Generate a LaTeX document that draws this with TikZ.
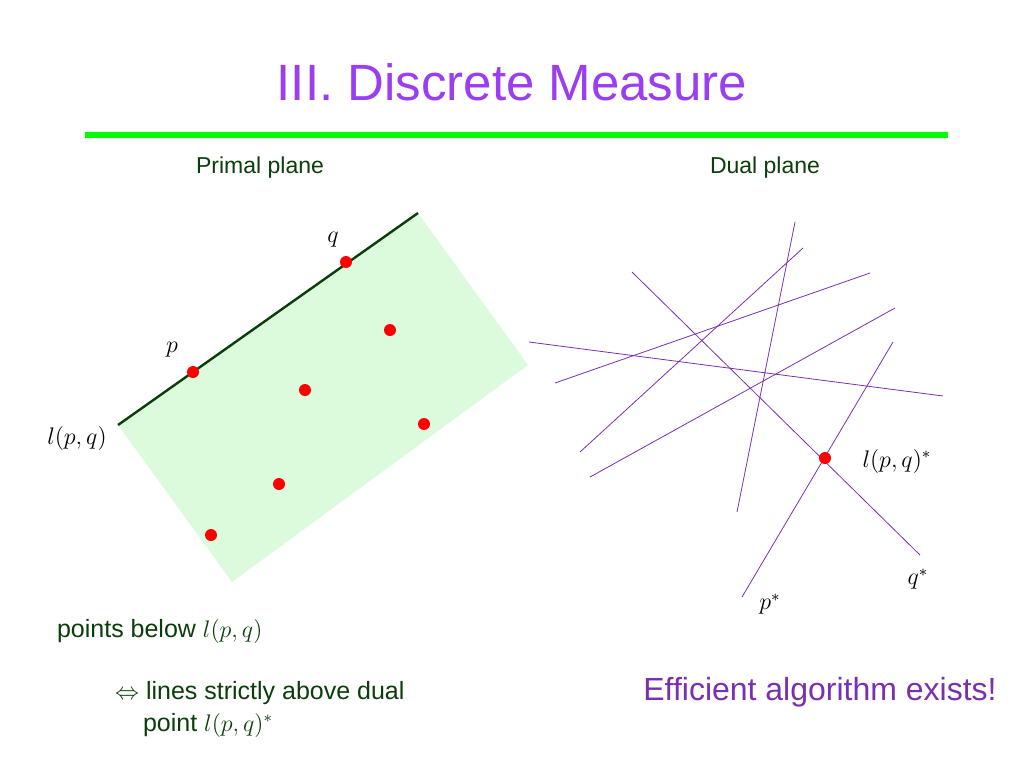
\documentclass[tikz,border=0pt]{standalone}
\usepackage{amsmath, amssymb, color, xcolor}
\usepackage{fontspec}
\setmainfont{Liberation Sans}
\usepackage{tikz}
\usetikzlibrary{arrows.meta, shapes}
\definecolor{titlepurple}{HTML}{9B3DF0}
\definecolor{dualpurple}{HTML}{7A2FB0}
\definecolor{textgreen}{HTML}{0B3D0B}
\definecolor{regiongreen}{HTML}{DCFADC}

\begin{document}
\begin{tikzpicture}[x=0.5pt,y=-0.5pt]
\useasboundingbox (0,0) rectangle (1024,768);
\node[text=titlepurple, font=\fontsize{25.5}{30}\selectfont] (title) at (512,82) {III. Discrete Measure};
\draw[green, line width=3pt] (85,135) -- (948,135);
\node[text=textgreen, font=\fontsize{11.5}{13}\selectfont] (primal) at (260,168) {Primal plane};
\node[text=textgreen, font=\fontsize{11.5}{13}\selectfont] (dual) at (765,168) {Dual plane};

% primal plane
\fill[regiongreen] (118,425) -- (418,213) -- (528,365) -- (232,582) -- cycle;
\coordinate (L1) at (118,425);
\coordinate (L2) at (418,213);
\draw[textgreen, line width=1.2pt] (L1) -- (L2);
\begin{scope}[every node/.style={circle,fill=red,inner sep=0pt,minimum size=6pt}]
  \node (q) at (346,262) {};
    \node (p) at (193,372) {};
    \node (a) at (390,330) {};
    \node (b) at (305,390) {};
    \node (c) at (424,424) {};
    \node (d) at (279,484) {};
    \node (e) at (211,535) {};
\end{scope}
\begin{scope}[every node/.style={font=\large}]
\node (ql) at (333,240) {$q$};
\node (pl) at (172,350) {$p$};
\node (ll) at (77,438) {$l(p,q)$};
\end{scope}

% dual plane
\begin{scope}[every path/.style={draw=dualpurple, line width=0.4pt}]
    \coordinate (a1) at (795,222); \coordinate (a2) at (737,512);
    \coordinate (b1) at (632,272); \coordinate (b2) at (920,555);
    \coordinate (c1) at (803,248); \coordinate (c2) at (580,452);
    \coordinate (d1) at (870,273); \coordinate (d2) at (555,383);
    \coordinate (e1) at (529,342); \coordinate (e2) at (943,396);
    \coordinate (f1) at (895,308); \coordinate (f2) at (590,477);
    \coordinate (g1) at (893,342); \coordinate (g2) at (742,597);
    \path (a1) -- (a2);
    \path (b1) -- (b2);
    \path (c1) -- (c2);
    \path (d1) -- (d2);
    \path (e1) -- (e2);
    \path (f1) -- (f2);
    \path (g1) -- (g2);
\end{scope}
\node[circle,fill=red,inner sep=0pt,minimum size=6pt] (lstar) at (825,458) {};
\begin{scope}[every node/.style={font=\large}]
\node (lstarl) at (897,461) {$l(p,q)^*$};
\node (qstar) at (918,579) {$q^*$};
\node (pstar) at (770,604) {$p^*$};
\end{scope}

% texts
\node[text=textgreen, anchor=west, font=\fontsize{12.5}{14}\selectfont] (below) at (50,631) {points below \large$l(p,q)$};
\node[text=textgreen, anchor=north west, align=left, font=\fontsize{12.5}{16}\selectfont] (iff) at (108,674)
  {$\Leftrightarrow$ lines strictly above dual\\ \hspace*{14pt}point \large$l(p,q)^*$};
\node[text=dualpurple, font=\fontsize{16}{19}\selectfont] (eff) at (820,692) {Efficient algorithm exists!};
\end{tikzpicture}
\end{document}
